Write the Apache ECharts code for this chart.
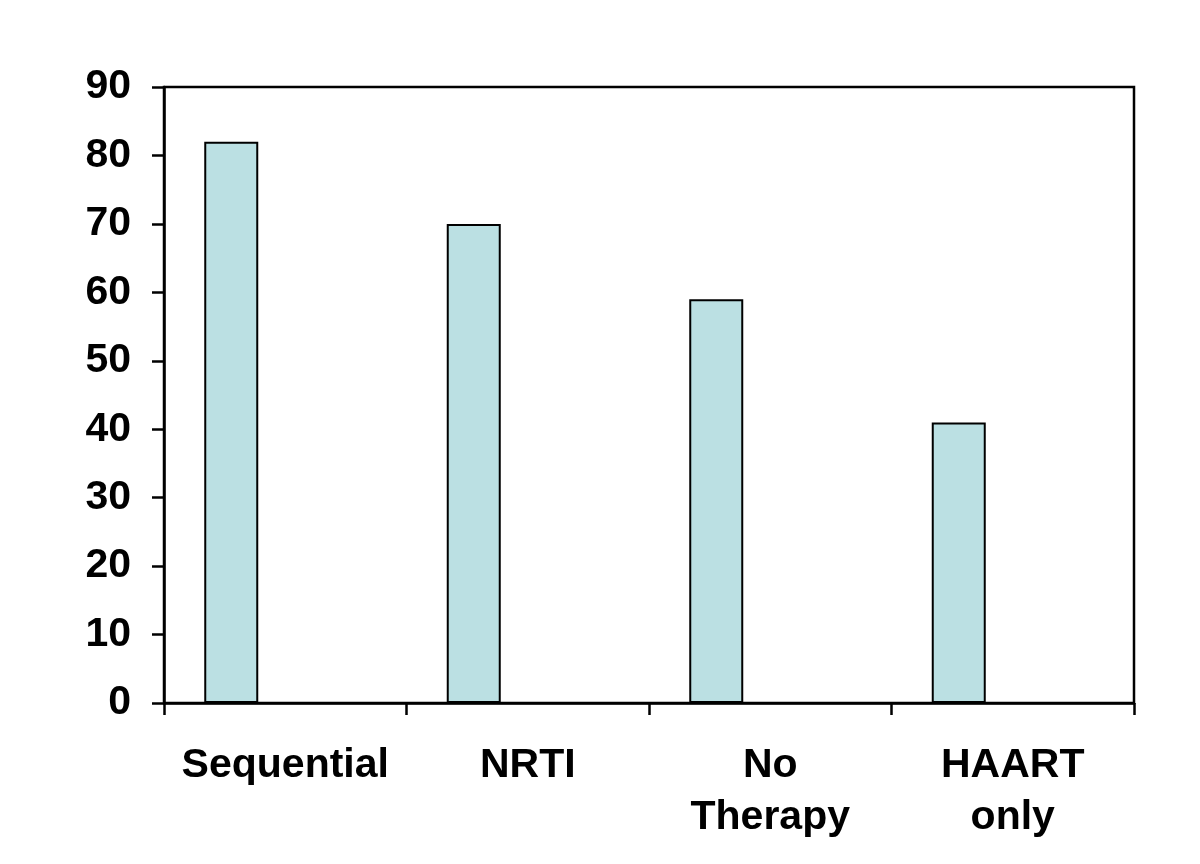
<!DOCTYPE html>
<html><head><meta charset="utf-8">
<script src="https://cdn.jsdelivr.net/npm/echarts@6/dist/echarts.min.js"></script>
<style>html,body{margin:0;padding:0;background:#fff}#c{width:1200px;height:864px}</style>
</head><body><div id="c"></div>
<script>
const categories = ['Sequential', 'NRTI', 'No\nTherapy', 'HAART\nonly'];
const values = [82, 70, 59, 41];
const emptySeries = [null, null, null, null];
const yMin = 0, yMax = 90, yStep = 10;

const chart = echarts.init(document.getElementById('c'), null, {renderer: 'canvas'});
const font = 'Liberation Sans, Arial, sans-serif';
chart.setOption({
  animation: false,
  backgroundColor: '#ffffff',
  grid: {left: 164, right: 66, top: 87, bottom: 161, show: true, borderColor: '#000', borderWidth: 2.5, backgroundColor: 'transparent'},
  xAxis: {
    type: 'category', data: categories,
    axisLine: {lineStyle: {color: '#000', width: 2.5}},
    axisTick: {show: true, length: 12, alignWithLabel: false, lineStyle: {color: '#000', width: 2.5}},
    axisLabel: {color: '#000', fontFamily: font, fontWeight: 'bold', fontSize: 41, lineHeight: 52, margin: 37, interval: 0}
  },
  yAxis: {
    type: 'value', min: yMin, max: yMax, interval: yStep,
    axisLine: {show: true, lineStyle: {color: '#000', width: 2.5}},
    axisTick: {show: true, length: 12, lineStyle: {color: '#000', width: 2.5}},
    splitLine: {show: false},
    axisLabel: {color: '#000', fontFamily: font, fontWeight: 'bold', fontSize: 41, margin: 33}
  },
  series: [
    {type: 'bar', data: values, barWidth: 54, barGap: '100%',
     itemStyle: {color: '#BBE0E3', borderColor: '#000', borderWidth: 2}},
    {type: 'bar', data: emptySeries, barWidth: 54,
     itemStyle: {color: '#BBE0E3'}}
  ]
});
</script></body></html>
